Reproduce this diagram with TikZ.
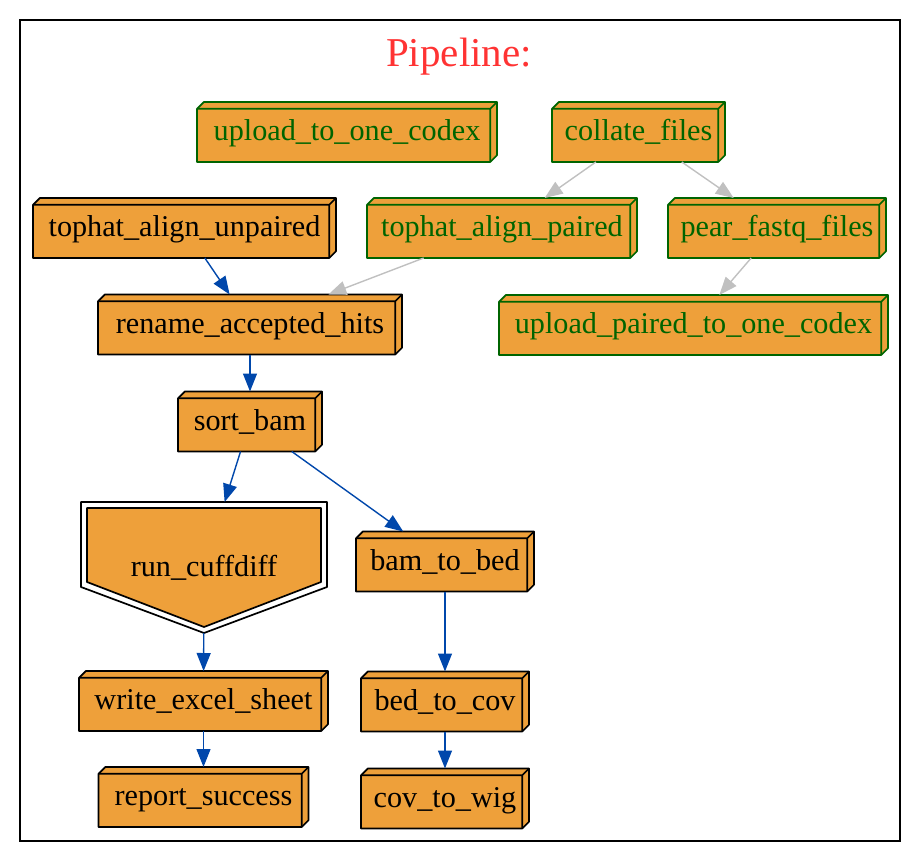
\documentclass[tikz,border=0pt]{standalone}
\usepackage{fontspec}
\setmainfont{Liberation Serif}
\usepackage{tikz}
\usetikzlibrary{arrows.meta, positioning, calc}

\definecolor{boxfill}{HTML}{EEA03A}
\definecolor{pipegreen}{HTML}{006400}
\definecolor{pipeblue}{HTML}{0047AB}
\definecolor{pipegray}{HTML}{C0C0C0}
\definecolor{pipered}{HTML}{FF3333}

\pgfdeclarelayer{background}
\pgfsetlayers{background,main}

\newlength{\boxd}
\setlength{\boxd}{3.4pt}

\begin{document}
\begin{tikzpicture}[
  x=0.5pt, y=-0.5pt,
  stepbox/.style={rectangle, inner sep=0pt, outer sep=0pt, minimum height=30pt, text height=11pt, text depth=2.5pt, font=\fontsize{15.1}{18}\selectfont},
  greenbox/.style={stepbox, text=pipegreen},
  cuffbox/.style={stepbox, minimum width=123pt, minimum height=65.5pt},
  face/.style={fill=boxfill, line width=0.85pt, line join=round},
  blueedge/.style={pipeblue, line width=0.7pt, -{Triangle[length=9pt, width=7pt]}},
  grayedge/.style={pipegray, line width=0.7pt, -{Triangle[length=9pt, width=7pt]}},
  title/.style={font=\fontsize{20.5}{25}\selectfont, text=pipered, anchor=base}
]
\useasboundingbox (0,0) rectangle (920,861);
\draw[line width=1pt] (20,20) rectangle (900,841);

\node[title] (title) at (459,67) {Pipeline:};

% upload branch
\node[greenbox, minimum width=150pt] (uploadone) at (347,132) {upload\_to\_one\_codex};
\node[greenbox, minimum width=86.5pt] (collate) at (638.5,132) {collate\_files};
\node[greenbox, minimum width=135pt] (tophatpair) at (502,228) {tophat\_align\_paired};
\node[greenbox, minimum width=109pt] (pear) at (777,228) {pear\_fastq\_files};
\node[greenbox, minimum width=194.5pt] (uploadpair) at (693.5,325) {upload\_paired\_to\_one\_codex};

% main chain
\node[stepbox, minimum width=151.5pt] (tophatun) at (184.5,228) {tophat\_align\_unpaired};
\node[stepbox, minimum width=152pt] (rename) at (250,324.5) {rename\_accepted\_hits};
\node[stepbox, minimum width=72pt, below=18.5pt of rename] (sortbam) {sort\_bam};
\node[cuffbox] (cuffdiff) at (204,567.5) {run\_cuffdiff};
\node[stepbox, minimum width=124.5pt] (excel) at (203.5,701) {write\_excel\_sheet};
\node[stepbox, minimum width=105pt, below=18pt of excel] (report) {report\_success};
\node[stepbox, minimum width=89pt] (bamtobed) at (445,561.5) {bam\_to\_bed};
\node[stepbox, minimum width=84pt, below=40pt of bamtobed] (bedtocov) {bed\_to\_cov};
\node[stepbox, minimum width=84pt, below=18.5pt of bedtocov] (covtowig) {cov\_to\_wig};

% box faces behind the labels
\begin{pgfonlayer}{background}
  \foreach \n/\c in {uploadone/pipegreen, collate/pipegreen, tophatpair/pipegreen, pear/pipegreen, uploadpair/pipegreen,
                     tophatun/black, rename/black, sortbam/black, excel/black, report/black, bamtobed/black, bedtocov/black, covtowig/black} {
    \filldraw[face, draw=\c] ([yshift=-\boxd]\n.north west) -- ([xshift=\boxd]\n.north west) -- (\n.north east)
      -- ([yshift=\boxd]\n.south east) -- ([xshift=-\boxd]\n.south east) -- (\n.south west) -- cycle;
    \draw[face, fill=none, draw=\c] ([xshift=-\boxd]\n.south east) -- ([xshift=-\boxd, yshift=-\boxd]\n.north east)
      -- ([yshift=-\boxd]\n.north west) ([xshift=-\boxd, yshift=-\boxd]\n.north east) -- (\n.north east);
  }
  \draw[line width=0.85pt, line join=round] (cuffdiff.north west) -- (cuffdiff.north east) -- ([yshift=-42.5pt]cuffdiff.north east)
    -- (cuffdiff.south) -- ([yshift=-42.5pt]cuffdiff.north west) -- cycle;
  \filldraw[face] ([xshift=3pt, yshift=-3pt]cuffdiff.north west) -- ([xshift=-3pt, yshift=-3pt]cuffdiff.north east)
    -- ([xshift=-3pt, yshift=-40pt]cuffdiff.north east) -- ([yshift=3pt]cuffdiff.south)
    -- ([xshift=3pt, yshift=-40pt]cuffdiff.north west) -- cycle;
\end{pgfonlayer}

% edges
\draw[grayedge] (collate) -- (tophatpair);
\draw[grayedge] (collate) -- (pear);
\draw[grayedge] (pear) -- (uploadpair);
\draw[grayedge] (tophatpair) -- (rename);
\draw[blueedge] (tophatun) -- (rename);
\draw[blueedge] (rename) -- (sortbam);
\draw[blueedge] (sortbam) -- (cuffdiff);
\draw[blueedge] (sortbam) -- (bamtobed);
\draw[blueedge] (cuffdiff) -- (excel);
\draw[blueedge] (excel) -- (report);
\draw[blueedge] (bamtobed) -- (bedtocov);
\draw[blueedge] (bedtocov) -- (covtowig);

\end{tikzpicture}
\end{document}
